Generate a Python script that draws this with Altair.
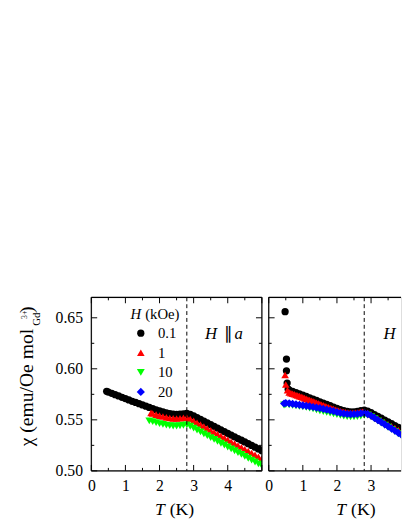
import altair as alt
import pandas as pd

# ---------------- data ----------------
series_labels = ["0.1", "1", "10", "20"]
series_colors = ["#000000", "#ff0000", "#00ff00", "#0000ff"]
series_shapes = ["circle", "triangle-up", "triangle-down", "diamond"]
series_sizes = [55, 70, 70, 55]

T_grid_06 = [0.6, 0.7, 0.8, 0.9, 1.0, 1.1, 1.2, 1.3, 1.4, 1.5, 1.6, 1.7, 1.8, 1.9, 2.0,
             2.1, 2.2, 2.3, 2.4, 2.5, 2.6, 2.7, 2.8, 2.9, 3.0, 3.1, 3.2, 3.3, 3.4, 3.5,
             3.6, 3.7, 3.8, 3.9, 4.0, 4.1, 4.2, 4.3, 4.4, 4.5, 4.6, 4.7, 4.8, 4.9, 5.0]
T_grid_18 = [1.8, 1.9, 2.0, 2.1, 2.2, 2.3, 2.4, 2.5, 2.6, 2.7, 2.8, 2.9, 3.0, 3.1, 3.2,
             3.3, 3.4, 3.5, 3.6, 3.7, 3.8, 3.9, 4.0, 4.1, 4.2, 4.3, 4.4, 4.5, 4.6, 4.7,
             4.8, 4.9, 5.0]
T_fine_06_28 = [0.60, 0.65, 0.70, 0.75, 0.80, 0.85, 0.90, 0.95, 1.00, 1.05, 1.10, 1.15,
                1.20, 1.25, 1.30, 1.35, 1.40, 1.45, 1.50, 1.55, 1.60, 1.65, 1.70, 1.75,
                1.80, 1.85, 1.90, 1.95, 2.00, 2.05, 2.10, 2.15, 2.20, 2.25, 2.30, 2.35,
                2.40, 2.45, 2.50, 2.55, 2.60, 2.65, 2.70, 2.75, 2.80]
T_grid_29 = [2.9, 3.0, 3.1, 3.2, 3.3, 3.4, 3.5, 3.6, 3.7, 3.8, 3.9, 4.0, 4.1, 4.2, 4.3,
             4.4, 4.5, 4.6, 4.7, 4.8, 4.9, 5.0]

# H || a panel
T_a_01 = [0.45, 0.5] + T_grid_06
chi_a_01 = [0.5780, 0.5772, 0.5760, 0.5747, 0.5734, 0.5721, 0.5708, 0.5695, 0.5682, 0.5670,
            0.5658, 0.5646, 0.5634, 0.5622, 0.5610, 0.5598, 0.5587, 0.5577, 0.5568, 0.5561,
            0.5556, 0.5554, 0.5555, 0.5559, 0.5563, 0.5553, 0.5538, 0.5521, 0.5504, 0.5487,
            0.5470, 0.5453, 0.5436, 0.5419, 0.5402, 0.5385, 0.5368, 0.5351, 0.5334, 0.5317,
            0.5300, 0.5283, 0.5266, 0.5249, 0.5232, 0.5215, 0.5198]
T_a_1 = [1.75] + T_grid_18
chi_a_1 = [0.5568, 0.5562, 0.5551, 0.5541, 0.5532, 0.5524, 0.5518, 0.5514, 0.5513, 0.5515,
           0.5519, 0.5522, 0.5508, 0.5490, 0.5471, 0.5453, 0.5434, 0.5416, 0.5397, 0.5379,
           0.5360, 0.5342, 0.5323, 0.5305, 0.5286, 0.5268, 0.5249, 0.5231, 0.5212, 0.5194,
           0.5175, 0.5157, 0.5138, 0.5120]
T_a_10 = [1.7] + T_grid_18
chi_a_10 = [0.5490, 0.5482, 0.5472, 0.5463, 0.5455, 0.5448, 0.5443, 0.5440, 0.5440, 0.5442,
            0.5447, 0.5450, 0.5437, 0.5419, 0.5400, 0.5382, 0.5363, 0.5345, 0.5326, 0.5308,
            0.5290, 0.5271, 0.5253, 0.5234, 0.5216, 0.5197, 0.5179, 0.5161, 0.5142, 0.5124,
            0.5105, 0.5087, 0.5068, 0.5050]

# H || c panel
T_c_01 = [0.48, 0.52, 0.52, 0.54, 0.57] + T_grid_06
chi_c_01 = [0.656, 0.6096, 0.598, 0.586, 0.580,
            0.5790, 0.5778, 0.5766, 0.5754, 0.5742, 0.5729, 0.5716, 0.5703, 0.5690, 0.5677,
            0.5664, 0.5651, 0.5638, 0.5625, 0.5612, 0.5600, 0.5590, 0.5583, 0.5579, 0.5579,
            0.5583, 0.5589, 0.5594, 0.5585, 0.5570, 0.5552, 0.5534, 0.5516, 0.5498, 0.5480,
            0.5462, 0.5444, 0.5426, 0.5408, 0.5390, 0.5372, 0.5354, 0.5336, 0.5318, 0.5300,
            0.5282, 0.5264, 0.5246, 0.5228, 0.5210]
T_c_1 = [0.48, 0.50, 0.55] + T_fine_06_28 + T_grid_29
chi_c_1 = [0.594, 0.5846, 0.579,
           0.5768, 0.5762, 0.5756, 0.5750, 0.5744, 0.5738, 0.5732, 0.5726, 0.5720,
           0.5713, 0.5707, 0.5700, 0.5694, 0.5687, 0.5681, 0.5674, 0.5668, 0.5661, 0.5655,
           0.5648, 0.5642, 0.5635, 0.5629, 0.5622, 0.5616,
           0.5610, 0.5605, 0.5599, 0.5594, 0.5589, 0.5584, 0.5580, 0.5576, 0.5573, 0.5570,
           0.5568, 0.5566, 0.5566, 0.5566, 0.5568, 0.5570, 0.5573, 0.5576, 0.5579, 0.5581,
           0.5570, 0.5552, 0.5532, 0.5512, 0.5492, 0.5473, 0.5455, 0.5437, 0.5419, 0.5401,
           0.5383, 0.5365, 0.5347, 0.5329, 0.5311, 0.5293, 0.5275, 0.5257, 0.5239, 0.5221,
           0.5203, 0.5185]
T_c_10 = [0.45, 0.5] + T_grid_06
chi_c_10 = [0.5645, 0.5650,
            0.5647, 0.5642, 0.5637, 0.5632, 0.5627, 0.5622, 0.5615, 0.5607, 0.5598, 0.5588,
            0.5580, 0.5573,
            0.5566, 0.5559, 0.5551, 0.5543, 0.5536, 0.5532, 0.5530, 0.5530, 0.5533, 0.5538,
            0.5543, 0.5547,
            0.5532, 0.5511, 0.5490, 0.5469, 0.5448, 0.5427, 0.5406, 0.5385, 0.5364, 0.5343,
            0.5322, 0.5301, 0.5280, 0.5259, 0.5238, 0.5217, 0.5196, 0.5175, 0.5154, 0.5133,
            0.5112]
T_c_20 = [0.45, 0.5] + T_grid_06
chi_c_20 = [0.5660, 0.5665,
            0.5662, 0.5657, 0.5652, 0.5647, 0.5642, 0.5637, 0.5632, 0.5626, 0.5620, 0.5614,
            0.5607, 0.5600,
            0.5593, 0.5585, 0.5576, 0.5568, 0.5561, 0.5557, 0.5555, 0.5555, 0.5558, 0.5563,
            0.5568, 0.5556,
            0.5540, 0.5519, 0.5498, 0.5477, 0.5456, 0.5435, 0.5414, 0.5393, 0.5372, 0.5351,
            0.5330, 0.5309, 0.5288, 0.5267, 0.5246, 0.5225, 0.5204, 0.5183, 0.5162, 0.5141,
            0.5120]

transition_T = [2.8]
x_major_a = [0, 1, 2, 3, 4, 5]
x_minor_a = [0.5, 1.5, 2.5, 3.5, 4.5]
x_major_c = [0, 1, 2, 3]
x_minor_c = [0.5, 1.5, 2.5, 3.5]
x_labels_a = [0, 1, 2, 3, 4]
x_labels_c = [0, 1, 2, 3]
y_major = [0.50, 0.55, 0.60, 0.65]
y_minor = [0.525, 0.575, 0.625]


def build(series):
    rows = []
    for lab, Ts, chis in series:
        for t, c in zip(Ts, chis):
            rows.append({"T": t, "chi": c, "H": lab})
    return pd.DataFrame(rows)


df_a = build([("0.1", T_a_01, chi_a_01), ("1", T_a_1, chi_a_1), ("10", T_a_10, chi_a_10)])
df_c = build([("0.1", T_c_01, chi_c_01), ("1", T_c_1, chi_c_1), ("10", T_c_10, chi_c_10),
              ("20", T_c_20, chi_c_20)])

# ---------------- styling ----------------
FONT = "Liberation Serif"
PX_PER_K = 34.8
WA, WC, H = 174, 135, 177
MAJ, MIN = 6, 3
FRAME_W = 1.2

ys = alt.Scale(domain=[0.5, 0.67], nice=False, zero=False)
yaxis_left = alt.Axis(values=y_major, format=".2f", ticks=False, domain=False, grid=False,
                      labelPadding=9, labelFont=FONT, labelFontSize=16, labelColor="black",
                      title=None)

one = pd.DataFrame({"a": [0]})


def txt(s, x, y, size, italic=False, angle=0):
    kw = dict(text=s, font=FONT, fontSize=size, color="black", align="left",
              baseline="alphabetic")
    if italic:
        kw["fontStyle"] = "italic"
    if angle:
        kw["angle"] = angle
    return alt.Chart(one).mark_text(**kw).encode(x=alt.value(x), y=alt.value(y))


def hline(x1, x2, y):
    return alt.Chart(one).mark_rule(color="black", strokeWidth=FRAME_W).encode(
        x=alt.value(x1), x2=alt.value(x2), y=alt.value(y))


def vline(x, y1, y2):
    return alt.Chart(one).mark_rule(color="black", strokeWidth=FRAME_W).encode(
        x=alt.value(x), y=alt.value(y1), y2=alt.value(y2))


def panel(df, W, xmax, x_labels, x_major, x_minor, yaxis, show_legend, label_parts,
          t_x, right_side, extra):
    xs = alt.Scale(domain=[0, xmax], nice=False, zero=False)
    xaxis = alt.Axis(values=x_labels, ticks=False, domain=False, grid=False, labelPadding=7,
                     labelFont=FONT, labelFontSize=16, labelColor="black", title=None,
                     labelFlush=False)
    if show_legend:
        leg = alt.Legend(title=None, orient="none", legendX=43, legendY=29, padding=0,
                         labelFont=FONT, labelFontSize=15, labelColor="black",
                         symbolSize=60, symbolStrokeWidth=0, rowPadding=4, labelOffset=10)
    else:
        leg = None
    pts = alt.Chart(df).mark_point(filled=True, opacity=1, clip=True).encode(
        x=alt.X("T:Q", scale=xs, axis=xaxis),
        y=alt.Y("chi:Q", scale=ys, axis=yaxis),
        color=alt.Color("H:N", scale=alt.Scale(domain=series_labels, range=series_colors),
                        legend=leg),
        shape=alt.Shape("H:N", scale=alt.Scale(domain=series_labels, range=series_shapes),
                        legend=leg),
        size=alt.Size("H:N", scale=alt.Scale(domain=series_labels, range=series_sizes),
                      legend=None),
    )
    rule = dict(color="black", strokeWidth=1)
    layers = [pts]
    for vals, L in ((x_major, MAJ), (x_minor, MIN)):
        d = pd.DataFrame({"v": vals})
        layers.append(alt.Chart(d).mark_rule(**rule).encode(
            x=alt.X("v:Q", scale=xs, axis=xaxis), y=alt.value(H), y2=alt.value(H - L)))
        layers.append(alt.Chart(d).mark_rule(**rule).encode(
            x=alt.X("v:Q", scale=xs, axis=xaxis), y=alt.value(0), y2=alt.value(L)))
    for vals, L in ((y_major, MAJ), (y_minor, MIN)):
        d = pd.DataFrame({"v": vals})
        layers.append(alt.Chart(d).mark_rule(**rule).encode(
            y=alt.Y("v:Q", scale=ys, axis=yaxis), x=alt.value(0), x2=alt.value(L)))
        if right_side:
            layers.append(alt.Chart(d).mark_rule(**rule).encode(
                y=alt.Y("v:Q", scale=ys, axis=yaxis), x=alt.value(W), x2=alt.value(W - L)))
    layers.append(alt.Chart(pd.DataFrame({"v": transition_T})).mark_rule(
        color="black", strokeWidth=1, strokeDash=[4, 3]).encode(
        x=alt.X("v:Q", scale=xs, axis=xaxis)))
    # frame
    layers += [hline(0, W, 0), hline(0, W, H), vline(0, 0, H)]
    if right_side:
        layers.append(vline(W, 0, H))
    # H || a / c label
    for s, x, it in label_parts:
        layers.append(txt(s, x, 42, 17, italic=it))
    # x title
    layers.append(txt("T", t_x, 222, 18, italic=True))
    layers.append(txt("(K)", t_x + 15, 222, 18))
    layers += extra
    return alt.layer(*layers).properties(width=W, height=H)


extra_left = [
    txt("H", 40, 22, 15, italic=True),
    txt("(kOe)", 55, 22, 15),
    txt("\u03c7 (emu/Oe mol", -59, 152, 20, angle=270),
    txt("Gd", -52.5, 29, 11, angle=270),
    txt("3+", -66, 22, 8, angle=270),
    txt(")", -59, 16, 20, angle=270),
]

left = panel(df_a, WA, 5.0, x_labels_a, x_major_a, x_minor_a, yaxis_left, True,
             [("H", 116, True), ("\u2225", 135, False), ("a", 146, True)],
             65, True, extra_left)
right = panel(df_c, WC, WC / PX_PER_K, x_labels_c, x_major_c, x_minor_c, None, False,
              [("H", 117, True)], 69, False, [])

chart = alt.hconcat(left, right, spacing=0).resolve_scale(
    color="independent", shape="independent", size="independent"
).resolve_legend(color="independent", shape="independent").properties(
    padding={"left": 9, "top": 288, "right": 0, "bottom": 0}
).configure_view(strokeWidth=0).configure(background="white")

chart.save("out.html", embed_options={"renderer": "svg", "actions": False})
